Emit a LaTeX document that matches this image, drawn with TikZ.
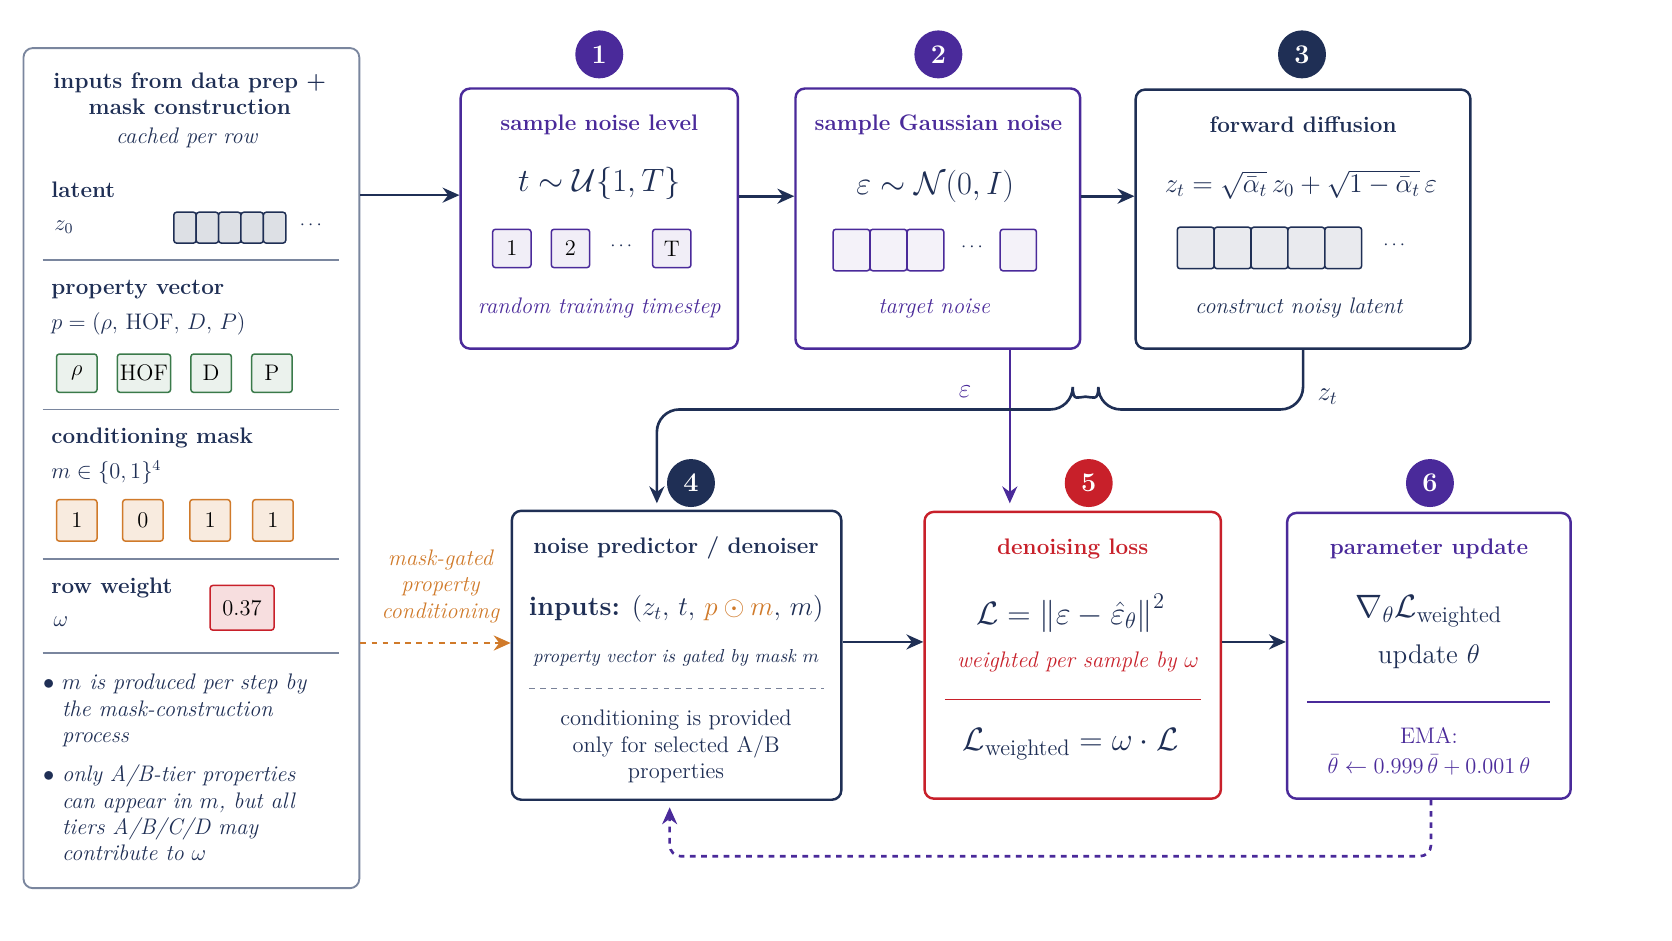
\documentclass[tikz,border=0pt]{standalone}
\usepackage{amsmath,amssymb}
\usetikzlibrary{arrows.meta,calc}
\definecolor{navy}{HTML}{1F2F55}
\definecolor{purp}{HTML}{4A2A9A}
\definecolor{lossred}{HTML}{C8202A}
\definecolor{orng}{HTML}{D07A2A}
\definecolor{grn}{HTML}{3A7A4A}
\definecolor{panelgray}{HTML}{7A869E}
\begin{document}
\begin{tikzpicture}[x=0.02cm, y=-0.02cm,
    stage/.style={draw, line width=1.3pt, rounded corners=5pt, fill=white},
    badge/.style={circle, inner sep=0pt, minimum size=0.9cm, text=white, font=\Large\bfseries},
    cell/.style={draw, line width=0.8pt, rounded corners=1.5pt, minimum width=0.72cm, minimum height=0.72cm, inner sep=0pt},
    tag/.style={font=\large},
    head/.style={font=\large\bfseries, anchor=west},
    flow/.style={line width=1.4pt, -{Stealth[length=9pt,width=8pt]}}]
  \useasboundingbox (0,0) rectangle (1568,882);

  % left panel
  \node (panel) [draw=panelgray, line width=1pt, rounded corners=5pt, minimum width=6.3cm, minimum height=15.76cm] at (179.5,439) {};
  \node (ptitle) [align=center, font=\large\bfseries, text=navy] at (178,88) {inputs from data prep +\\mask construction};
  \node (pcache) [font=\large\itshape, text=navy] at (175,129) {cached per row};

  \node (latent) [head, text=navy] at (42,178) {latent};
  \node (z0) [font=\large, text=navy] at (60,213) {$z_0$};
  \foreach \i in {0,...,4}
    \node (zc\i) [cell, draw=navy, fill=navy!15, minimum width=0.42cm, minimum height=0.58cm] at (173.5+\i*21,213.5) {};
  \node (zdots) [text=navy] at (293,211) {$\cdots$};
  \draw[panelgray, line width=1pt] (40,244) -- (318,244);

  \node (pvec) [head, text=navy] at (42,272) {property vector};
  \node (pdef) [font=\large, text=navy, anchor=west] at (42,304) {$p = (\rho,\,\mathrm{HOF},\,D,\,P)$};
  \foreach \x/\t/\w [count=\k] in {72/$\rho$/0.76, 135/HOF/1.0, 198/D/0.76, 255/P/0.76}
    \node (pb\k) [cell, draw=grn, fill=grn!10, minimum width=\w cm, font=\large] at (\x,350) {\t};
  \draw[panelgray, line width=1pt] (40,384) -- (318,384);

  \node (cmask) [head, text=navy] at (42,411) {conditioning mask};
  \node (mdef) [font=\large, text=navy, anchor=west] at (42,443) {$m \in \{0,1\}^4$};
  \foreach \x/\t [count=\k] in {72/1, 134/0, 197/1, 256/1}
    \node (mb\k) [cell, draw=orng, fill=orng!15, minimum width=0.76cm, minimum height=0.78cm, font=\large] at (\x,488) {\t};
  \draw[panelgray, line width=1pt] (40,524) -- (318,524);

  \node (rweight) [head, text=navy] at (42,551) {row weight};
  \node (omega) [font=\large, text=navy] at (57,583) {$\omega$};
  \node (wbox) [cell, draw=lossred, fill=lossred!15, minimum width=1.2cm, minimum height=0.84cm, font=\large] at (227,570) {0.37};
  \draw[panelgray, line width=1pt] (40,612) -- (318,612);

  \node (note1) [anchor=north west, align=left, font=\large\itshape, text=navy, inner sep=0pt] at (40,632)
    {$\bullet$ $m$ is produced per step by\\\phantom{$\bullet$} the mask-construction\\\phantom{$\bullet$} process};
  \node (note2) [anchor=north west, align=left, font=\large\itshape, text=navy, inner sep=0pt] at (40,717)
    {$\bullet$ only A/B-tier properties\\\phantom{$\bullet$} can appear in $m$, but all\\\phantom{$\bullet$} tiers A/B/C/D may\\\phantom{$\bullet$} contribute to $\omega$};

  % stage 1
  \node (s1) [stage, draw=purp, minimum width=5.2cm, minimum height=4.88cm] at (562,205) {};
  \node (s1t) [font=\large\bfseries, text=purp] at (562,117) {sample noise level};
  \node (s1f) [font=\LARGE, text=navy] at (562,172) {$t \sim \mathcal{U}\{1, T\}$};
  \node (s1a) [cell, draw=purp, fill=purp!8, font=\large] at (480,233) {1};
  \node (s1b) [cell, draw=purp, fill=purp!8, font=\large] at (535,233) {2};
  \node (s1d) [text=navy] at (584,231) {$\cdots$};
  \node (s1c) [cell, draw=purp, fill=purp!8, font=\large] at (630,233) {T};
  \node (s1n) [font=\large\itshape, text=purp] at (562,289) {random training timestep};
  \node (b1) [badge, fill=purp] at (562,51) {1};

  % stage 2
  \node (s2) [stage, draw=purp, minimum width=5.34cm, minimum height=4.88cm] at (879.5,205) {};
  \node (s2t) [font=\large\bfseries, text=purp] at (880,117) {sample Gaussian noise};
  \node (s2f) [font=\LARGE, text=navy] at (877,175) {$\varepsilon \sim \mathcal{N}(0, I)$};
  \foreach \i in {0,1,2}
    \node (nc\i) [cell, draw=purp, fill=purp!6, minimum width=0.69cm, minimum height=0.78cm] at (798.5+\i*34.7,234.5) {};
  \node (s2d) [text=navy] at (913,232) {$\cdots$};
  \node (nc3) [cell, draw=purp, fill=purp!6, minimum width=0.68cm, minimum height=0.78cm] at (955,234.5) {};
  \node (s2n) [font=\large\itshape, text=purp] at (876,289) {target noise};
  \node (b2) [badge, fill=purp] at (880,51) {2};

  % stage 3
  \node (s3) [stage, draw=navy, minimum width=6.28cm, minimum height=4.86cm] at (1222,205.5) {};
  \node (s3t) [font=\large\bfseries, text=navy] at (1222,117) {forward diffusion};
  \node (s3f) [font=\Large, text=navy] at (1220,173) {$z_t = \sqrt{\bar\alpha_t}\,z_0 + \sqrt{1-\bar\alpha_t}\,\varepsilon$};
  \foreach \i in {0,...,4}
    \node (fc\i) [cell, draw=navy, fill=navy!10, minimum width=0.69cm, minimum height=0.78cm] at (1121.3+\i*34.6,232.5) {};
  \node (s3d) [text=navy] at (1309,230) {$\cdots$};
  \node (s3n) [font=\large\itshape, text=navy] at (1218,289) {construct noisy latent};
  \node (b3) [badge, fill=navy] at (1221,51) {3};

  % stage 4
  \node (s4) [stage, draw=navy, minimum width=6.18cm, minimum height=5.42cm] at (634.5,614.5) {};
  \node (s4t) [font=\large\bfseries, text=navy] at (634,514) {noise predictor / denoiser};
  \node (s4f) [font=\Large, text=navy] at (634,571) {\textbf{inputs:} $(z_t,\,t,\,\textcolor{orng}{p \odot m},\,m)$};
  \node (s4n) [font=\normalsize\itshape, text=navy] at (634,617) {property vector is gated by mask $m$};
  \draw[navy!60, dashed, line width=0.6pt] (496,646) -- (773,646);
  \node (s4x) [font=\large, text=navy, align=center] at (634,700) {conditioning is provided\\only for selected A/B\\properties};
  \node (b4) [badge, fill=navy] at (648,453) {4};

  % stage 5
  \node (s5) [stage, draw=lossred, minimum width=5.56cm, minimum height=5.38cm] at (1006,614.5) {};
  \node (s5t) [font=\large\bfseries, text=lossred] at (1006,515) {denoising loss};
  \node (s5f) [font=\LARGE, text=navy] at (1004,575) {$\mathcal{L} = \left\|\varepsilon - \hat\varepsilon_\theta\right\|^2$};
  \node (s5n) [font=\large\itshape, text=lossred] at (1011,621) {weighted per sample by $\omega$};
  \draw[lossred, line width=1pt] (886,656) -- (1126,656);
  \node (s5g) [font=\LARGE, text=navy] at (1004,698) {$\mathcal{L}_{\text{weighted}} = \omega \cdot \mathcal{L}$};
  \node (b5) [badge, fill=lossred] at (1021,453) {5};

  % stage 6
  \node (s6) [stage, draw=purp, minimum width=5.32cm, minimum height=5.36cm] at (1340,615) {};
  \node (s6t) [font=\large\bfseries, text=purp] at (1340,515) {parameter update};
  \node (s6f) [font=\LARGE, text=navy] at (1340,573) {$\nabla_\theta \mathcal{L}_{\text{weighted}}$};
  \node (s6u) [font=\Large, text=navy] at (1340,616) {update $\theta$};
  \draw[purp, line width=1pt] (1226,658) -- (1454,658);
  \node (s6e) [font=\large, text=purp, align=center] at (1340,705) {EMA:\\[2pt]$\bar\theta \leftarrow 0.999\,\bar\theta + 0.001\,\theta$};
  \node (b6) [badge, fill=purp] at (1341,453) {6};

  % connectors
  \draw[flow, navy] (panel.east |- 0,183) -- (s1.west |- 0,183);
  \draw[flow, navy] (s1.east |- 0,184) -- (s2.west |- 0,184);
  \draw[flow, navy] (s2.east |- 0,184) -- (s3.west |- 0,184);
  \draw[flow, navy] (s4.east |- 0,602) -- (s5.west |- 0,602);
  \draw[flow, navy] (s5.east |- 0,602) -- (s6.west |- 0,602);
  \draw[flow, orng, dashed] (panel.east |- 0,603) -- (s4.west |- 0,603);
  \node (mg) [font=\large\itshape, text=orng, align=center] at (413,550) {mask-gated\\property\\conditioning};

  \coordinate (eps0) at (947,472);
  \draw[flow, purp] (s2.south -| eps0) -- (eps0);
  \node (epsl) [font=\Large, text=purp] at (905,367) {$\varepsilon$};

  \coordinate (zt1) at (1222,384);
  \coordinate (zt2) at (616,384);
  \coordinate (zt3) at (616,472);
  \draw[flow, navy, rounded corners=12pt] (s3.south -| zt1) -- (zt1) -- (1030,384)
    arc[start angle=0, end angle=-180, radius=12] -- (zt2) -- (zt3);
  \node (ztl) [font=\Large, text=navy] at (1245,372) {$z_t$};

  \coordinate (fb1) at (1342,803);
  \coordinate (fb2) at (628,803);
  \draw[flow, purp, dashed, rounded corners=6pt] (s6.south -| fb1) -- (fb1) -- (fb2) -- ($(s4.south -| fb2)+(0,6)$);
\end{tikzpicture}
\end{document}
